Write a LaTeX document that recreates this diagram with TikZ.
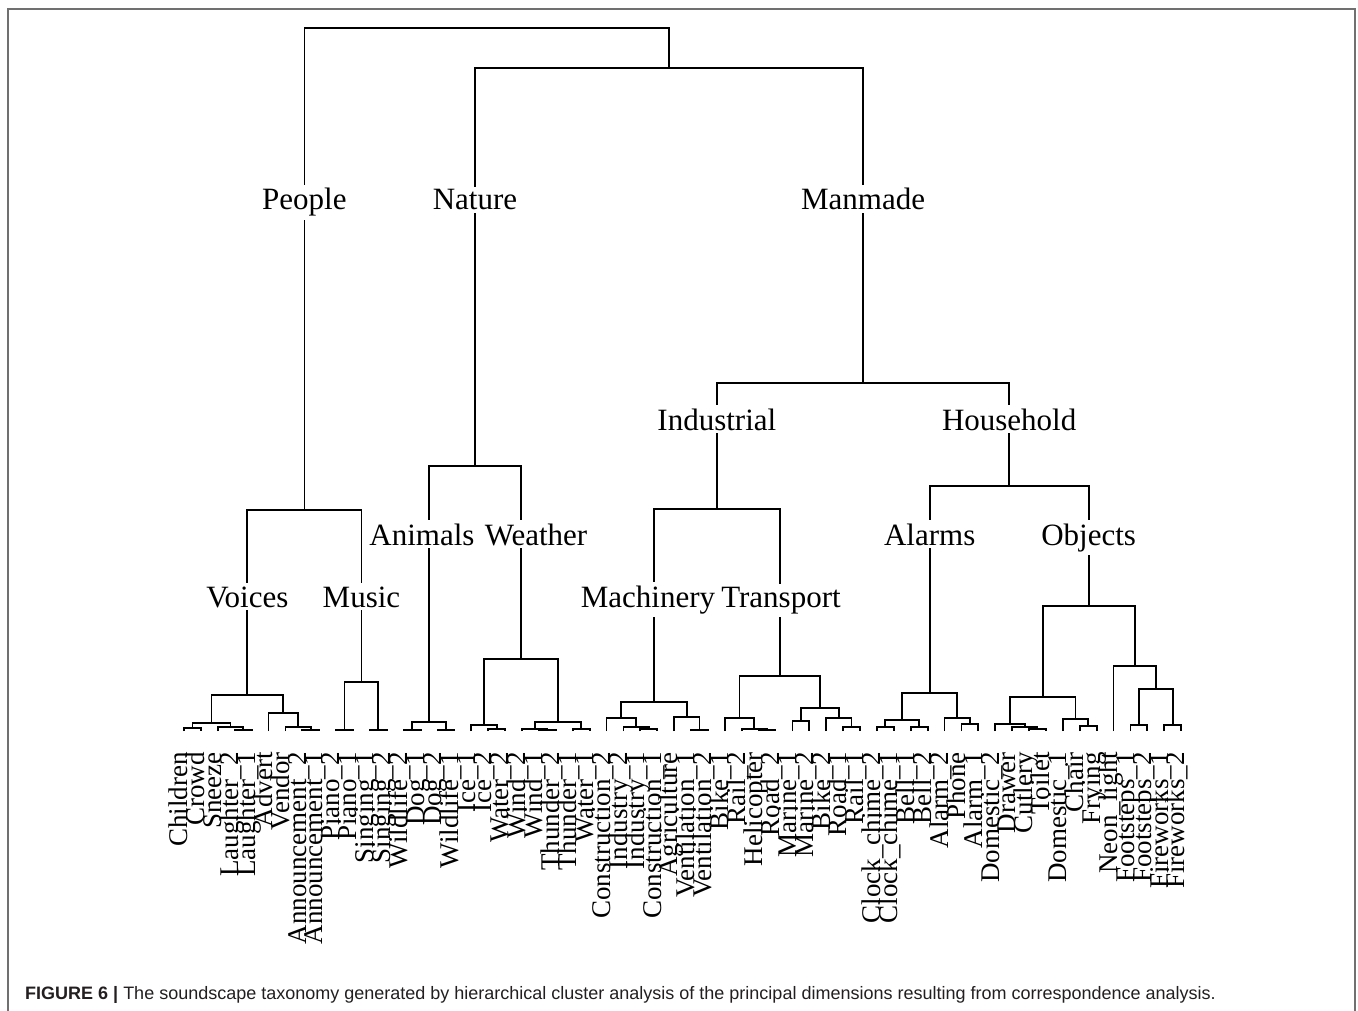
\documentclass[tikz,border=0pt]{standalone}
\usepackage{fontspec}
\setmainfont{Liberation Serif}
\setsansfont{Liberation Sans}
\usepackage{tikz}
\usetikzlibrary{calc}
\tikzstyle{dendrogram} = [x = 1pt, y = -1pt]
\definecolor{frameColor}{RGB}{112,112,112}
\definecolor{captionColor}{RGB}{35,31,32}
\tikzstyle{treeLine} = [color=black, line width=1.8pt]
\tikzstyle{frameLine} = [color=frameColor, line width=1.2pt]
\tikzstyle{leafText} = [rotate=90, anchor=mid east, inner sep=0pt, font=\fontsize{27}{30}\selectfont]
\tikzstyle{branchText} = [anchor=base, fill=white, inner sep=3pt, font=\fontsize{31}{36}\selectfont]
\tikzstyle{captionText} = [anchor=base west, inner sep=0pt, color=captionColor, font=\sffamily\fontsize{18}{21}\selectfont]
\newcommand{\leafGap}{16.9}
\newcommand{\leafStart}{184}
\newcommand{\leafBottom}{731}
\newcommand{\joinClusters}[4]{
  \coordinate (#1) at ($(#2 |- 0,#4)!.5!(#3 |- 0,#4)$);
  \draw [treeLine] (#2) -- (#2 |- #1) -- (#3 |- #1) -- (#3);
}
\newcommand{\branchLabel}[3]{\node [branchText] (#1Label) at (#1 |- 0,#2) {#3};}
\begin{document}
\begin{tikzpicture}[dendrogram]
  \useasboundingbox (0,0) rectangle (1358,1011);
  \draw [frameLine] (8,1011) -- (8,9) -- (1355,9) -- (1355,1011);

  \foreach \leafName [count=\leafIndex from 0] in {Children, Crowd, Sneeze, Laughter\_2, Laughter\_1, Advert, Vendor, Announcement\_2, Announcement\_1,
      Piano\_2, Piano\_1, Singing\_1, Singing\_2,
      Wildlife\_2, Dog\_1, Dog\_2, Wildlife\_1,
      Ice\_1, Ice\_2, Water\_2, Wind\_2, Wind\_1, Thunder\_2, Thunder\_1, Water\_1,
      Construction\_2, Industry\_2, Industry\_1, Construction\_1, Agriculture, Ventilation\_1, Ventilation\_2,
      Bike\_1, Rail\_2, Helicopter, Road\_2, Marine\_1, Marine\_2, Bike\_2, Road\_1, Rail\_1,
      Clock\_chime\_2, Clock\_chime\_1, Bell\_1, Bell\_2, Alarm\_2, Phone, Alarm\_1,
      Domestic\_2, Drawer, Cutlery, Toilet, Domestic\_1, Chair, Frying, Neon\_light, Footsteps\_1, Footsteps\_2, Fireworks\_1, Fireworks\_2} {
    \coordinate (L\leafIndex) at ({\leafStart + \leafGap * \leafIndex}, \leafBottom);
    \node [leafText] (leafLabel\leafIndex) at ({\leafStart + 1.5 + \leafGap * \leafIndex}, 752) {\leafName};
  }

  \joinClusters{cc}{L0}{L1}{728}
  \joinClusters{lg}{L3}{L4}{730}
  \joinClusters{sl}{L2}{lg}{727}
  \joinClusters{vl}{cc}{sl}{723}
  \joinClusters{an}{L7}{L8}{730}
  \joinClusters{va}{L6}{an}{727}
  \joinClusters{vr}{L5}{va}{713}
  \joinClusters{voices}{vl}{vr}{695}
  \joinClusters{pn}{L9}{L10}{730}
  \joinClusters{sg}{L11}{L12}{730}
  \joinClusters{music}{pn}{sg}{682}
  \joinClusters{people}{voices}{music}{510}

  \joinClusters{wd}{L13}{L14}{730}
  \joinClusters{dw}{L15}{L16}{730}
  \joinClusters{animals}{wd}{dw}{722}
  \joinClusters{iw}{L18}{L19}{729}
  \joinClusters{ice}{L17}{iw}{725}
  \joinClusters{wt}{L21}{L22}{730}
  \joinClusters{wn}{L20}{wt}{729}
  \joinClusters{tw}{L23}{L24}{729}
  \joinClusters{wr}{wn}{tw}{722}
  \joinClusters{weather}{ice}{wr}{659}
  \joinClusters{nature}{animals}{weather}{466}

  \joinClusters{ic}{L27}{L28}{729}
  \joinClusters{ind}{L26}{ic}{727}
  \joinClusters{con}{L25}{ind}{718}
  \joinClusters{vt}{L30}{L31}{730}
  \joinClusters{ag}{L29}{vt}{717}
  \joinClusters{machinery}{con}{ag}{702}
  \joinClusters{hr}{L34}{L35}{730}
  \joinClusters{rh}{L33}{hr}{729}
  \joinClusters{br}{L32}{rh}{718}
  \joinClusters{mr}{L36}{L37}{721}
  \joinClusters{rr}{L39}{L40}{727}
  \joinClusters{bk}{L38}{rr}{718}
  \joinClusters{mt}{mr}{bk}{708}
  \joinClusters{transport}{br}{mt}{676}
  \joinClusters{industrial}{machinery}{transport}{509}

  \joinClusters{ch}{L41}{L42}{727}
  \joinClusters{bl}{L43}{L44}{727}
  \joinClusters{cb}{ch}{bl}{720}
  \joinClusters{pa}{L46}{L47}{724}
  \joinClusters{ap}{L45}{pa}{718}
  \joinClusters{alarms}{cb}{ap}{693}
  \joinClusters{ct}{L50}{L51}{729}
  \joinClusters{dc}{L49}{ct}{727}
  \joinClusters{dd}{L48}{dc}{724}
  \joinClusters{cf}{L53}{L54}{726}
  \joinClusters{dcf}{L52}{cf}{719}
  \joinClusters{ol}{dd}{dcf}{697}
  \joinClusters{fs}{L56}{L57}{725}
  \joinClusters{fw}{L58}{L59}{725}
  \joinClusters{ff}{fs}{fw}{689}
  \joinClusters{nf}{L55}{ff}{666}
  \joinClusters{objects}{ol}{nf}{606}
  \joinClusters{household}{alarms}{objects}{486}
  \joinClusters{manmade}{industrial}{household}{383}

  \joinClusters{natman}{nature}{manmade}{68}
  \joinClusters{root}{people}{natman}{28}

  \branchLabel{people}{210}{People}
  \branchLabel{nature}{210}{Nature}
  \branchLabel{manmade}{210}{Manmade}
  \branchLabel{industrial}{430}{Industrial}
  \branchLabel{household}{430}{Household}
  \node [branchText] (animalsLabel) at (422,545) {Animals};
  \node [branchText] (weatherLabel) at (536,545) {Weather};
  \branchLabel{alarms}{545}{Alarms}
  \branchLabel{objects}{545}{Objects}
  \branchLabel{voices}{607}{Voices}
  \branchLabel{music}{607}{Music}
  \node [branchText] (machineryLabel) at (648,607) {Machinery};
  \node [branchText] (transportLabel) at (781,607) {Transport};

  \node [captionText] (caption) at (25,999) {\textbf{FIGURE 6 |} The soundscape taxonomy generated by hierarchical cluster analysis of the principal dimensions resulting from correspondence analysis.};
\end{tikzpicture}
\end{document}
